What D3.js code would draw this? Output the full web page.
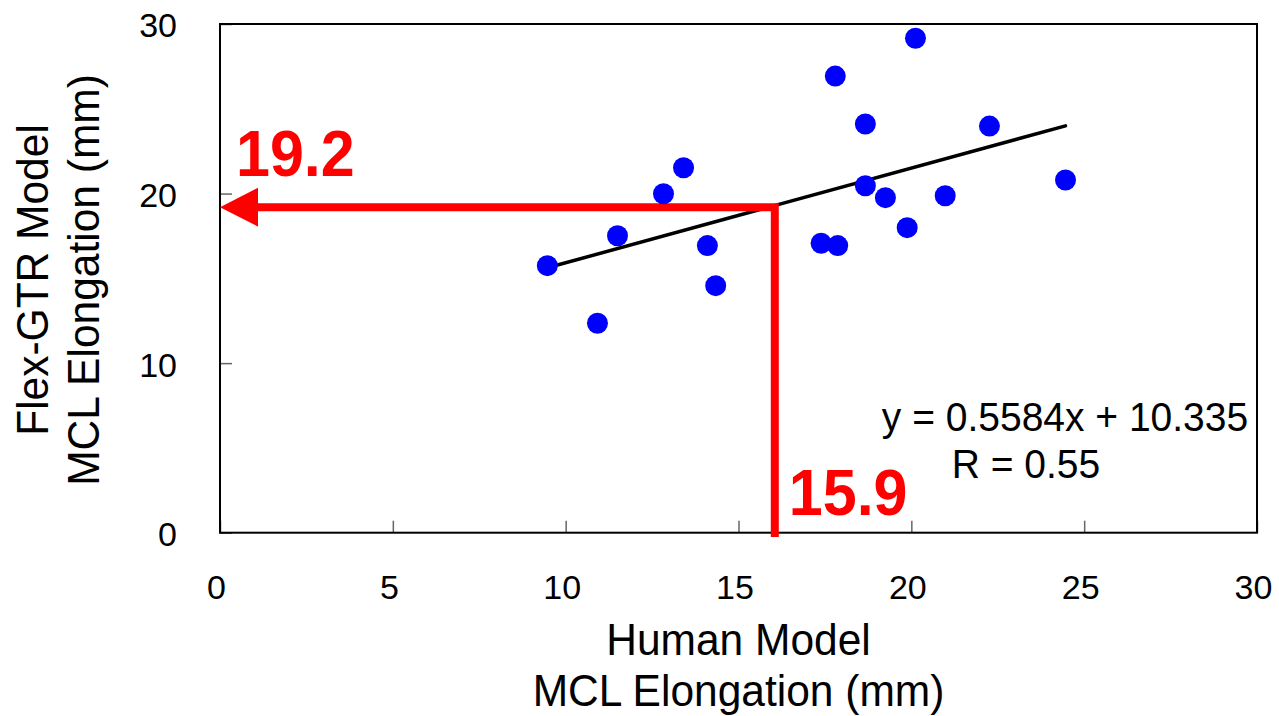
<!DOCTYPE html>
<html>
<head>
<meta charset="utf-8">
<script src="https://cdn.jsdelivr.net/npm/d3@7"></script>
<style>
  html, body { margin: 0; padding: 0; background: #fff; }
  svg { display: block; font-family: "Liberation Sans", Arial, sans-serif; }
</style>
</head>
<body>
<svg id="chart" width="1279" height="716"></svg>
<script>
// ---- data ----
const humanX = [9.47, 10.92, 11.50, 12.83, 13.41, 14.10, 14.34, 17.39, 17.80, 17.87, 18.67, 18.67, 19.25, 19.88, 20.12, 20.98, 22.26, 24.46];
const flexY  = [15.75, 12.35, 17.51, 19.99, 21.52, 16.93, 14.57, 17.07, 26.93, 16.93, 24.10, 20.46, 19.76, 17.99, 29.16, 19.87, 23.98, 20.80];
const xTicks = [0, 5, 10, 15, 20, 25, 30];
const yTicks = [0, 10, 20, 30];
const slope = 0.5584, intercept = 10.335;
const eqLabel = "y = 0.5584x + 10.335";
const rLabel = "R = 0.55";
const markX = 16.05, markY = 19.2;       // red guide corner
const markXLabel = "15.9", markYLabel = "19.2";
const xTitle = ["Human Model", "MCL Elongation (mm)"];
const yTitle = ["Flex-GTR Model", "MCL Elongation (mm)"];

// ---- layout ----
const svg = d3.select("#chart");
const L = 220, R = 1257, T = 24, B = 532.7;
const x = d3.scaleLinear().domain([0, 30]).range([L, R]);
const y = d3.scaleLinear().domain([0, 30]).range([B, T]);

// axes (inside ticks)
const gx = svg.append("g").attr("transform", `translate(0,${B})`)
  .call(d3.axisBottom(x).tickValues(xTicks).tickSize(-12).tickPadding(42));
const gy = svg.append("g").attr("transform", `translate(${L},0)`)
  .call(d3.axisLeft(y).tickValues(yTicks).tickSize(-12).tickPadding(43));
[gx, gy].forEach(g => {
  g.select(".domain").remove();
  g.selectAll(".tick line").attr("stroke", "#666").attr("stroke-width", 1.5);
  g.selectAll(".tick text").attr("fill", "#000").attr("font-size", 34)
    .attr("font-family", "Liberation Sans, Arial, sans-serif");
});
gx.selectAll(".tick text").attr("dx", -4);
gy.selectAll(".tick text").attr("dy", "0.38em");

// frame
svg.append("rect").attr("x", L).attr("y", T).attr("width", R - L).attr("height", B - T)
  .attr("fill", "none").attr("stroke", "#000").attr("stroke-width", 2);

// regression line
const xmin = d3.min(humanX), xmax = d3.max(humanX);
svg.append("line")
  .attr("x1", x(xmin)).attr("y1", y(slope * xmin + intercept))
  .attr("x2", x(xmax)).attr("y2", y(slope * xmax + intercept))
  .attr("stroke", "#000").attr("stroke-width", 3.5).attr("stroke-linecap", "round");

// red guide
const red = "#ff0000";
const headLen = 38, headHalf = 19.5;
svg.append("path")
  .attr("d", `M${x(0) + headLen},${y(markY)} L${x(markX)},${y(markY)} L${x(markX)},${y(-0.25)}`)
  .attr("fill", "none").attr("stroke", red).attr("stroke-width", 8).attr("stroke-linejoin", "miter");
svg.append("path")
  .attr("d", `M${x(0)},${y(markY)} L${x(0) + headLen},${y(markY) - headHalf} L${x(0) + headLen},${y(markY) + headHalf} Z`)
  .attr("fill", red);

// points
svg.append("g").selectAll("circle").data(humanX.map((d, i) => [d, flexY[i]])).join("circle")
  .attr("cx", d => x(d[0])).attr("cy", d => y(d[1])).attr("r", 10.5).attr("fill", "#0000ff");

// helper: text slightly stretched vertically (as in the reference)
function label(parent, tx, ty, str, size, anchor, extra) {
  const g = parent.append("g").attr("transform", `translate(${tx},${ty}) scale(1,1.05)`);
  const t = g.append("text").attr("x", 0).attr("y", 0).attr("text-anchor", anchor || "start")
    .attr("font-size", size).attr("fill", "#000").text(str);
  if (extra) extra(t);
  return t;
}

// red labels
const bold = t => t.attr("fill", red).attr("font-weight", "bold");
label(svg, x(0) + 16, 176, markYLabel, 61, "start", bold);
label(svg, x(markX) + 14, 515, markXLabel, 61, "start", bold);

// equation
label(svg, 1065, 431, eqLabel, 39, "middle");
label(svg, 1026, 478, rLabel, 39, "middle");

// axis titles
const cx = (L + R) / 2;
label(svg, cx, 655, xTitle[0], 42.5, "middle");
label(svg, cx, 706, xTitle[1], 42.5, "middle");
const tyG = svg.append("g").attr("transform", "translate(0,280) rotate(-90)");
const rot = (tx, ty, str) => tyG.append("g").attr("transform", `translate(${tx},${ty}) scale(1,1.05)`)
  .append("text").attr("text-anchor", "middle").attr("font-size", 42.5).text(str);
rot(0, 48, yTitle[0]);
rot(0, 99, yTitle[1]);
</script>
</body>
</html>
